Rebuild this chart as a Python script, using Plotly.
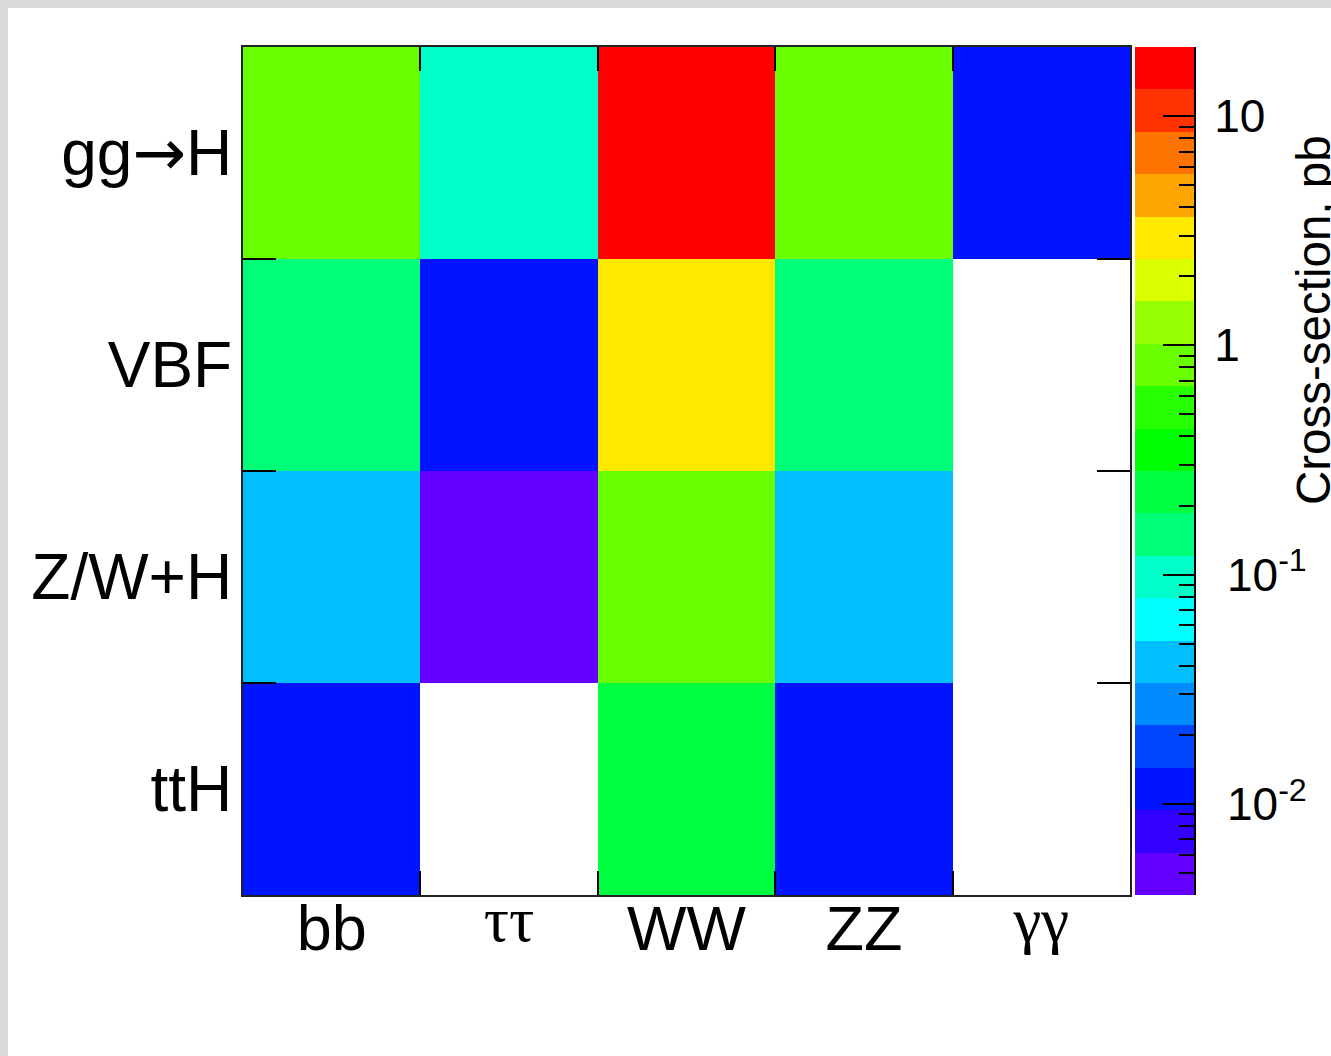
import numpy as np
import plotly.graph_objects as go

# ---------------- data ----------------
channels = ["bb", "ττ", "WW", "ZZ", "γγ"]
greek_style = "font-family:'Liberation Serif';baseline-shift:9px"
channel_labels = ["bb",
                  f"<span style=\"{greek_style}\">ττ</span>",
                  "WW", "ZZ",
                  f"<span style=\"{greek_style}\">γγ</span>"]
processes = ["gg→H", "VBF", "Z/W+H", "ttH"]
process_labels = ["gg<span style=\"font-family:'DejaVu Sans'\">→</span>H",
                  "VBF", "Z/W+H", "ttH"]

xsec_ggH = [0.8, 0.1, 16.0, 0.8, 0.012]
xsec_VBF = [0.15, 0.012, 3.0, 0.15, None]
xsec_ZWH = [0.042, 0.005, 0.8, 0.042, None]
xsec_ttH = [0.012, None, 0.23, 0.012, None]

z_min_pb = 0.004
z_max_pb = 20.0

cbar_major_vals = [0.01, 0.1, 1, 10]
cbar_major_text = ["\u00a010<sup>-2</sup>", "\u00a010<sup>-1</sup>", "1", "10"]
cbar_minor_vals = [0.004, 0.005, 0.006, 0.007, 0.008, 0.009,
                   0.02, 0.03, 0.04, 0.05, 0.06, 0.07, 0.08, 0.09,
                   0.2, 0.3, 0.4, 0.5, 0.6, 0.7, 0.8, 0.9,
                   2, 3, 4, 5, 6, 7, 8, 9, 20]

# ROOT-like palette, 20 contours (bottom -> top)
palette = [
    "rgb(100,0,255)", "rgb(50,0,255)", "rgb(0,20,255)", "rgb(0,70,255)",
    "rgb(0,140,255)", "rgb(0,190,255)", "rgb(0,255,255)", "rgb(0,255,200)",
    "rgb(0,255,120)", "rgb(0,255,65)", "rgb(0,255,0)", "rgb(40,255,0)",
    "rgb(105,255,0)", "rgb(150,255,0)", "rgb(220,255,0)", "rgb(255,233,0)",
    "rgb(255,165,0)", "rgb(255,115,0)", "rgb(255,50,0)", "rgb(255,0,0)",
]

# ---------------- helpers ----------------
def lg(v):
    return None if v is None else float(np.log10(v))

rows = [xsec_ggH, xsec_VBF, xsec_ZWH, xsec_ttH]
z = [[lg(v) for v in r] for r in rows]
zmin, zmax = np.log10(z_min_pb), np.log10(z_max_pb)

n = len(palette)
colorscale = []
for i, c in enumerate(palette):
    colorscale.append([i / n, c])
    colorscale.append([(i + 1) / n, c])

# page is offset by the 8px body margin; figure covers the rest
OFF = 8
W, H = 1331 - OFF, 1056 - OFF
def fx(px):
    return (px - OFF) / W
def fy(py):
    return 1 - (py - OFF) / H

fig = go.Figure()

fig.add_trace(go.Heatmap(
    x=channels, y=processes, z=z,
    colorscale=colorscale, zmin=zmin, zmax=zmax,
    showscale=False, hoverongaps=False,
    xaxis="x", yaxis="y",
))

# colour bar drawn as a heatmap on its own axes
edges = np.linspace(zmin, zmax, n + 1)
centers = (edges[:-1] + edges[1:]) / 2
fig.add_trace(go.Heatmap(
    x=[0, 1], y=edges, z=[[c] for c in centers],
    colorscale=colorscale, zmin=zmin, zmax=zmax,
    showscale=False, hoverinfo="skip",
    xaxis="x2", yaxis="y2",
))
fig.add_trace(go.Scatter(x=[None], y=[None], xaxis="x2", yaxis="y3",
                         mode="markers", showlegend=False, hoverinfo="skip"))

font_main = "Liberation Sans, Arial, Helvetica, sans-serif"

fig.update_layout(
    width=W, height=H,
    margin=dict(l=0, r=0, t=0, b=0),
    paper_bgcolor="white", plot_bgcolor="white",
    showlegend=False,
    font=dict(family=font_main, color="black"),
    xaxis=dict(
        domain=[fx(243), fx(1130)],
        type="category", tickmode="array",
        tickvals=channels, ticktext=channel_labels,
        tickson="boundaries", ticks="inside", ticklen=24, tickwidth=2,
        tickcolor="black", showline=True, linecolor="#222", linewidth=2,
        mirror="ticks", showgrid=False, zeroline=False,
        tickfont=dict(size=63, family=font_main),
        ticklabelstandoff=-23, automargin=False, anchor="y",
    ),
    yaxis=dict(
        domain=[fy(895), fy(47)],
        type="category", autorange="reversed",
        tickmode="array", tickvals=processes, ticktext=process_labels,
        tickson="boundaries", ticks="inside", ticklen=33, tickwidth=2,
        tickcolor="black", showline=True, linecolor="#222", linewidth=2,
        mirror="ticks", showgrid=False, zeroline=False,
        tickfont=dict(size=64, family=font_main),
        ticklabelstandoff=-4, automargin=False, anchor="x",
    ),
    xaxis2=dict(
        domain=[fx(1135), fx(1194)], range=[0, 1],
        showticklabels=False, ticks="", showgrid=False, zeroline=False,
        showline=False, anchor="y2", fixedrange=True,
    ),
    yaxis2=dict(
        domain=[fy(895), fy(47)], range=[zmin, zmax],
        side="right", anchor="x2",
        tickmode="array", tickvals=[float(np.log10(v)) for v in cbar_major_vals],
        ticktext=cbar_major_text,
        ticks="inside", ticklen=31, tickwidth=2, tickcolor="black",
        showline=True, linecolor="black", linewidth=2,
        showgrid=False, zeroline=False,
        tickfont=dict(size=46, family=font_main),
        ticklabelstandoff=9, automargin=False,
    ),
    yaxis3=dict(
        domain=[fy(895), fy(47)], range=[zmin, zmax],
        side="right", anchor="x2", overlaying="y2",
        tickmode="array", tickvals=[float(np.log10(v)) for v in cbar_minor_vals],
        ticks="inside", ticklen=15, tickwidth=2, tickcolor="black",
        showticklabels=False, showline=False, showgrid=False, zeroline=False,
        automargin=False,
    ),
    annotations=[dict(
        text="Cross-section, pb", textangle=-90,
        xref="paper", yref="paper", x=fx(1314), y=fy(320),
        xanchor="center", yanchor="middle", showarrow=False,
        font=dict(size=47.5, family=font_main, color="black"),
    )],
)

post = ("document.documentElement.style.background='#d9d9d9';"
        "document.documentElement.style.overflow='hidden';"
        "document.body.style.background='#d9d9d9';"
        "document.body.style.margin='8px 0 0 8px';")

fig.write_html("out.html", post_script=post)
